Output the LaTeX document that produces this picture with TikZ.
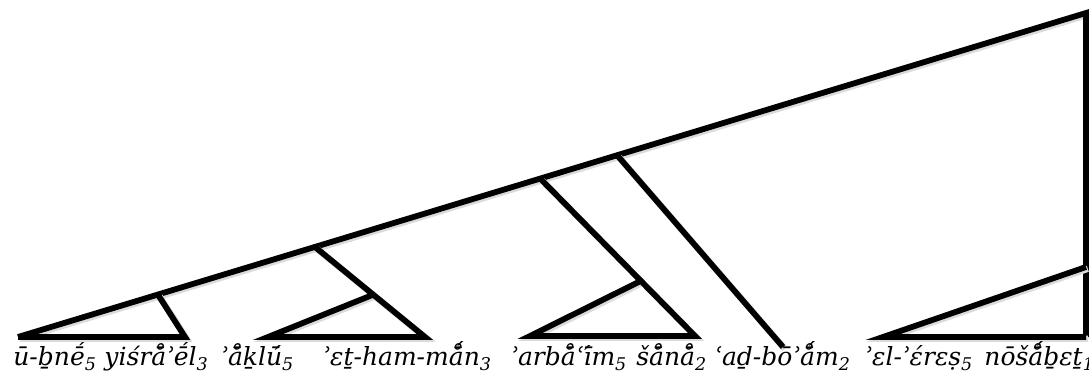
\documentclass[tikz,border=0pt]{standalone}
\usepackage{fontspec}
\setmainfont{DejaVu Serif}
\usetikzlibrary{calc}

\begin{document}
\begin{tikzpicture}[
  x=0.5pt,y=-0.5pt,
  branch/.style={line width=2.9pt,line join=miter,
                 preaction={draw=black!14,line width=3.2pt,
                            transform canvas={xshift=0.9pt,yshift=-0.9pt}}},
  word/.style={anchor=base west,inner sep=0pt,
               font=\itshape\fontsize{12.5}{14}\selectfont}
]
\useasboundingbox (0,0) rectangle (1089,379);

\coordinate (leaf) at (18,337);
\coordinate (root) at (1086,13);
\coordinate (foot) at (1086,337);
\coordinate (n1) at ($(leaf)!0.131!(root)$);
\coordinate (n2) at ($(leaf)!0.278!(root)$);
\coordinate (n3) at ($(leaf)!0.489!(root)$);
\coordinate (n4) at ($(leaf)!0.561!(root)$);
\coordinate (t1) at (185,337);
\coordinate (t2l) at (268,337);
\coordinate (t2r) at (425,337);
\coordinate (n2b) at ($(n2)!0.53!(t2r)$);
\coordinate (t3l) at (530,336);
\coordinate (t3r) at (695,336);
\coordinate (n3b) at ($(n3)!0.65!(t3r)$);
\coordinate (t4) at (783,347);
\coordinate (t5l) at (883,337);
\coordinate (n5) at (1086,267);

\draw[branch] (leaf) -- (root) -- (foot);
\draw[branch] (n1) -- (t1) -- (leaf);
\draw[branch] (n2) -- (t2r) -- (t2l) -- (n2b);
\draw[branch] (n3) -- (t3r) -- (t3l) -- (n3b);
\draw[branch] (n4) -- (t4);
\draw[branch] (foot) -- (t5l) -- (n5);

\node[word] (w1) at (13,366) {ū-ḇnḗ\textsubscript{5}};
\node[word] (w2) at (104,366) {yiśrå̄ʾḗl\textsubscript{3}};
\node[word] (w3) at (220,366) {ʾå̄ḵlū́\textsubscript{5}};
\node[word] (w4) at (322,366) {ʾɛṯ-ham-må̄́n\textsubscript{3}};
\node[word] (w5) at (510,366) {ʾarbå̄ʿī́m\textsubscript{5}};
\node[word] (w6) at (636,366) {šå̄nå̄\textsubscript{2}};
\node[word] (w7) at (714,366) {ʿaḏ-bōʾå̄́m\textsubscript{2}};
\node[word] (w8) at (864,366) {ʾɛl-ʾɛ́rɛṣ\textsubscript{5}};
\node[word] (w9) at (984,366) {nōšå̄́ḇɛṯ\textsubscript{1}};
\end{tikzpicture}
\end{document}
